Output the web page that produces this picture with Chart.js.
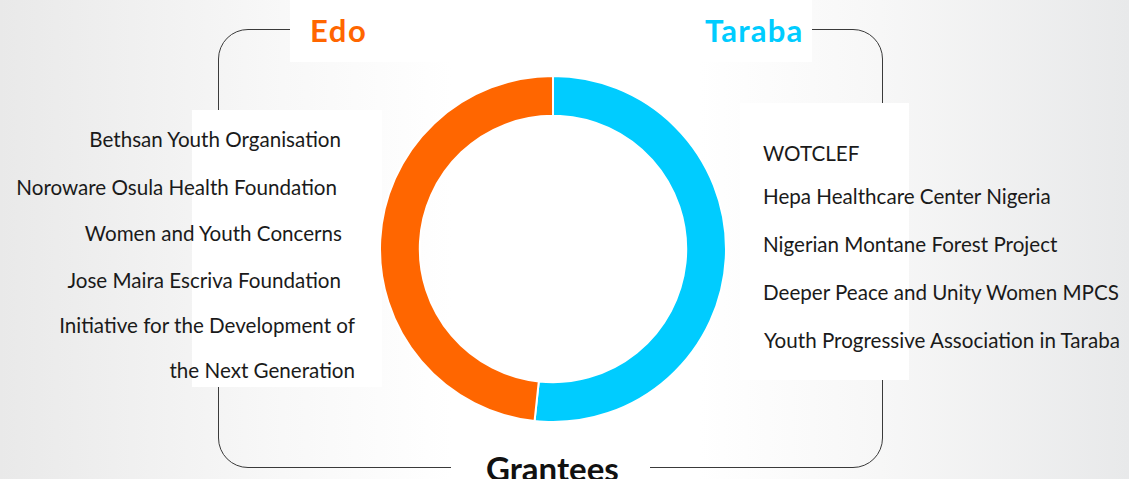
<!DOCTYPE html>
<html>
<head>
<meta charset="utf-8">
<script src="https://cdn.jsdelivr.net/npm/chart.js@4"></script>
<style>
  html, body { margin: 0; padding: 0; }
  body {
    width: 1129px; height: 479px; overflow: hidden; position: relative;
    font-family: Lato, "Open Sans", sans-serif;
    background: linear-gradient(to right, #e9e9e9 0%, #f8f8f8 25%, #ffffff 40%, #ffffff 62%, #f7f7f7 78%, #e8e9ea 100%);
  }
  .frame {
    position: absolute; left: 218px; top: 29px; width: 663px; height: 437px;
    border: 1.5px solid #3a3a3a; border-radius: 30px;
  }
  .patch { position: absolute; background: #fff; }
  .wrap { position: absolute; left: 379px; top: 75px; width: 348px; height: 348px; }
  .txt { position: absolute; white-space: nowrap; color: #1a1a1a; font-size: 20.6px; height: 24px; line-height: 24px; }
  .head { position: absolute; white-space: nowrap; font-weight: bold; height: 38px; line-height: 38px; }
</style>
</head>
<body>
<div class="frame"></div>
<div class="patch" style="left:290px; top:0; width:522px; height:62px"></div>
<div class="patch" style="left:192px; top:110px; width:190px; height:277px"></div>
<div class="patch" style="left:740px; top:103px; width:169px; height:277px"></div>
<div class="patch" style="left:451px; top:440px; width:199px; height:39px"></div>
<div class="wrap"><canvas id="ring"></canvas></div>
<div id="labels"></div>
<script>
// grantee split by state (share of ring)
const regions = ['Taraba', 'Edo'];
const shares = [51.7, 48.3];
const colours = ['#00ccff', '#ff6600'];

const edoGrantees = [
  'Bethsan Youth Organisation',
  'Noroware Osula Health Foundation',
  'Women and Youth Concerns',
  'Jose Maira Escriva Foundation',
  'Initiative for the Development of',
  'the Next Generation'
];
const tarabaGrantees = [
  'WOTCLEF',
  'Hepa Healthcare Center Nigeria',
  'Nigerian Montane Forest Project',
  'Deeper Peace and Unity Women MPCS',
  'Youth Progressive Association in Taraba'
];

// layout: vertical centres and edges of each text row
const edoMid = [139, 187, 233, 280, 325.5, 370.5];
const edoRight = [341, 337, 342, 341, 355, 355];
const tarabaMid = [153.5, 196, 244, 292.5, 340.5];
const tarabaLeft = [763, 763, 763, 763, 764];

const box = document.getElementById('labels');
function addText(cls, text, css) {
  const d = document.createElement('div');
  d.className = cls;
  d.textContent = text;
  Object.assign(d.style, css);
  box.appendChild(d);
}
edoGrantees.forEach((t, i) => addText('txt', t, { right: (1129 - edoRight[i]) + 'px', top: (edoMid[i] - 12.5) + 'px' }));
tarabaGrantees.forEach((t, i) => addText('txt', t, { left: tarabaLeft[i] + 'px', top: (tarabaMid[i] - 12.5) + 'px' }));
addText('head', 'Edo', { left: '310px', top: '11px', fontSize: '31px', letterSpacing: '1.6px', color: colours[1] });
addText('head', 'Taraba', { left: '705px', top: '11px', fontSize: '31px', letterSpacing: '1.2px', color: colours[0] });
addText('head', 'Grantees', { left: '486px', top: '449px', fontSize: '33px', color: '#111' });

new Chart(document.getElementById('ring'), {
  type: 'doughnut',
  data: {
    labels: regions,
    datasets: [{ data: shares, backgroundColor: colours, borderColor: '#ffffff', borderWidth: 2 }]
  },
  options: {
    responsive: true, maintainAspectRatio: false, animation: false,
    cutout: '77%',
    layout: { padding: 0 },
    plugins: { legend: { display: false }, tooltip: { enabled: false } }
  }
});
</script>
</body>
</html>
